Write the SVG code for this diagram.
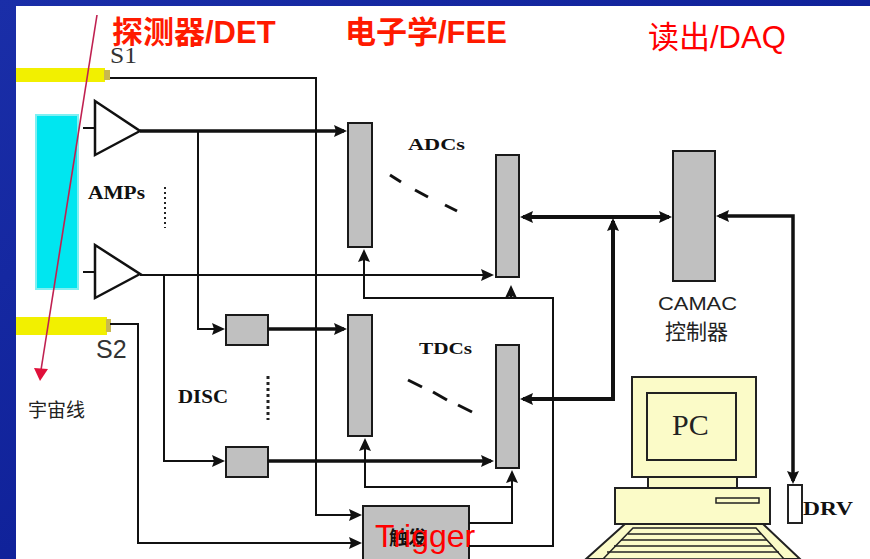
<svg xmlns="http://www.w3.org/2000/svg" width="870" height="559" viewBox="0 0 870 559">
  <defs>
    <linearGradient id="frame" x1="0" y1="0" x2="1" y2="1">
      <stop offset="0" stop-color="#1a2ea8"/>
      <stop offset="1" stop-color="#06168c"/>
    </linearGradient>
    <marker id="arr" viewBox="0 0 13 12" refX="10" refY="6" markerWidth="13" markerHeight="12" markerUnits="userSpaceOnUse" orient="auto-start-reverse">
      <path d="M0,0 L13,6 L0,12 L2,6 z" fill="#111"/>
    </marker>
  </defs>
  <style>
    .box { fill: #c0c0c0; stroke: #1a1a1a; stroke-width: 2; }
    .thin { fill: none; stroke: #111; stroke-width: 2; }
    .thick { fill: none; stroke: #111; stroke-width: 3.5; }
    .bus { fill: none; stroke: #111; stroke-width: 4; }
    .amp { fill: #fff; stroke: #111; stroke-width: 2.5; }
    .pc { fill: #fbfbc8; stroke: #222; stroke-width: 2; }
    .head { font-family: "Liberation Sans", "Noto Sans CJK SC", sans-serif; font-size: 31px; }
    .lbl { font-family: "Liberation Serif", serif; font-weight: bold; fill: #111; }
    .cn { font-family: "Noto Sans CJK SC", sans-serif; fill: #222; }
  </style>

  <!-- slide frame -->
  <rect x="0" y="0" width="870" height="559" fill="url(#frame)"/>
  <rect x="16" y="6" width="854" height="553" fill="#fff"/>

  <!-- section headings -->
  <text class="head" x="112" y="43" font-weight="bold" fill="#ff1a00">探测器/DET</text>
  <text class="head" x="345" y="43" font-weight="bold" fill="#ff1a00">电子学/FEE</text>
  <text class="head" x="648" y="48" fill="#ff0000">读出/DAQ</text>

  <!-- scintillator counters -->
  <g id="s1">
    <rect x="16" y="68" width="89" height="14" fill="#f2f000"/>
    <rect x="104" y="70" width="6" height="10" fill="#c8b850"/>
    <text x="110" y="63" font-family="Liberation Serif, serif" font-size="24" fill="#333" textLength="27" lengthAdjust="spacingAndGlyphs">S1</text>
  </g>
  <g id="s2">
    <rect x="16" y="317" width="91" height="18" fill="#f2f000"/>
    <rect x="106" y="319" width="5" height="13" fill="#c8b850"/>
    <text x="96" y="358" font-family="Liberation Sans, sans-serif" font-size="25" fill="#333">S2</text>
  </g>
  <g id="detector">
    <rect x="36" y="115" width="42" height="174" fill="#00e6f0" stroke="#7ff0f2" stroke-width="2"/>
  </g>

  <!-- amplifiers -->
  <g id="amp1">
    <line x1="83" y1="128" x2="95" y2="128" class="thin"/>
    <polygon points="95,101 95,155 140,131" class="amp"/>
  </g>
  <g id="amp2">
    <line x1="83" y1="272" x2="95" y2="272" class="thin"/>
    <polygon points="95,245 95,298 140,274" class="amp"/>
  </g>
  <text class="lbl" x="88" y="199" font-size="19" textLength="57" lengthAdjust="spacingAndGlyphs">AMPs</text>
  <line x1="165" y1="187" x2="165" y2="228" stroke="#222" stroke-width="2" stroke-dasharray="2 3"/>

  <!-- discriminators -->
  <g id="disc1"><rect class="box" x="226" y="315" width="42" height="30"/></g>
  <g id="disc2"><rect class="box" x="226" y="447" width="42" height="30"/></g>
  <text class="lbl" x="178" y="403" font-size="19" textLength="50" lengthAdjust="spacingAndGlyphs">DISC</text>
  <line x1="268" y1="376" x2="268" y2="420" stroke="#222" stroke-width="3" stroke-dasharray="3 3"/>

  <!-- ADCs -->
  <g id="adc1"><rect class="box" x="348" y="123" width="24" height="124"/></g>
  <g id="adc2"><rect class="box" x="496" y="155" width="23" height="122"/></g>
  <text class="lbl" x="408" y="150" font-size="17" textLength="57" lengthAdjust="spacingAndGlyphs">ADCs</text>
  <g stroke="#111" stroke-width="3">
    <line x1="390" y1="175" x2="401" y2="182"/>
    <line x1="415" y1="190" x2="428" y2="197"/>
    <line x1="445" y1="205" x2="457" y2="211"/>
  </g>

  <!-- TDCs -->
  <g id="tdc1"><rect class="box" x="348" y="315" width="24" height="121"/></g>
  <g id="tdc2"><rect class="box" x="496" y="345" width="23" height="123"/></g>
  <text class="lbl" x="419" y="354" font-size="17" textLength="53" lengthAdjust="spacingAndGlyphs">TDCs</text>
  <g stroke="#111" stroke-width="3">
    <line x1="408" y1="380" x2="422" y2="387"/>
    <line x1="433" y1="392" x2="447" y2="400"/>
    <line x1="458" y1="405" x2="472" y2="412"/>
  </g>

  <!-- trigger logic -->
  <g id="trigger">
    <rect class="box" x="363" y="506" width="106" height="60"/>
    <text x="389" y="545" font-family="Noto Sans CJK SC, sans-serif" font-weight="bold" font-size="19" fill="#111">触发</text>
    <text x="375" y="547" font-family="Liberation Sans, sans-serif" font-size="32" fill="#ff0000">Trigger</text>
  </g>

  <!-- CAMAC crate controller -->
  <g id="camac">
    <rect class="box" x="673" y="151" width="42" height="130"/>
    <text x="658" y="310" font-family="Liberation Sans, sans-serif" font-size="18" fill="#222" textLength="79" lengthAdjust="spacingAndGlyphs">CAMAC</text>
    <text class="cn" x="665" y="339" font-size="21">控制器</text>
  </g>

  <!-- drive -->
  <g id="drv">
    <rect x="788" y="485" width="14" height="38" fill="#fff" stroke="#222" stroke-width="2"/>
    <text class="lbl" x="803" y="515" font-size="19" textLength="50" lengthAdjust="spacingAndGlyphs">DRV</text>
  </g>

  <!-- PC -->
  <g id="pc">
    <rect class="pc" x="632" y="377" width="124" height="100"/>
    <rect class="pc" x="647" y="393" width="89" height="67" stroke-width="2.5"/>
    <text x="672" y="435" font-family="Liberation Serif, serif" font-size="30" fill="#222">PC</text>
    <rect class="pc" x="648" y="477" width="89" height="11"/>
    <rect class="pc" x="615" y="488" width="155" height="36"/>
    <rect x="716" y="498" width="43" height="5" fill="#fbfbc8" stroke="#222" stroke-width="1.5"/>
    <polygon class="pc" points="625,524 763,524 800,559 586,559"/>
    <polygon points="633,528 756,528 784,559 603,559" fill="#fbfbc8" stroke="#222" stroke-width="1.5"/>
    <g stroke="#222" stroke-width="1.5">
      <line x1="628" y1="534" x2="761" y2="534"/>
      <line x1="621" y1="540" x2="767" y2="540"/>
      <line x1="614" y1="546" x2="773" y2="546"/>
      <line x1="607" y1="552" x2="779" y2="552"/>
    </g>
  </g>

  <!-- signal connectors -->
  <g id="connectors">
    <path class="thin" d="M110,78 H316 V515 H359" marker-end="url(#arr)"/>
    <path class="thin" d="M110,324 H138 V543 H359" marker-end="url(#arr)"/>
    <path class="thick" d="M140,131 H344" marker-end="url(#arr)"/>
    <path class="thin" d="M198,131 V329 H222" marker-end="url(#arr)"/>
    <path class="thin" d="M140,275 H491" marker-end="url(#arr)"/>
    <path class="thin" d="M164,275 V461 H222" marker-end="url(#arr)"/>
    <path class="thick" d="M268,329 H344" marker-end="url(#arr)"/>
    <path class="thick" d="M268,461 H491" marker-end="url(#arr)"/>
    <path class="thin" d="M469,523 H512 V473" marker-end="url(#arr)"/>
    <path class="thin" d="M512,487 H365 V441" marker-end="url(#arr)"/>
    <path class="thin" d="M469,546 H553 V298 H364 V252" marker-end="url(#arr)"/>
    <path class="thin" d="M511,298 V288" marker-end="url(#arr)"/>
    <path class="bus" d="M523,217 H669" marker-start="url(#arr)" marker-end="url(#arr)"/>
    <path class="bus" d="M523,399 H613 V221" marker-start="url(#arr)" marker-end="url(#arr)"/>
    <path class="thick" d="M719,216 H793 V481" marker-start="url(#arr)" marker-end="url(#arr)"/>
  </g>

  <!-- cosmic ray track -->
  <g id="cosmic">
    <line x1="97" y1="15" x2="41" y2="370" stroke="#c02050" stroke-width="1.6"/>
    <polygon points="34,368 48,369 40,381" fill="#e0103a"/>
    <text class="cn" x="28" y="417" font-size="19">宇宙线</text>
  </g>
</svg>
